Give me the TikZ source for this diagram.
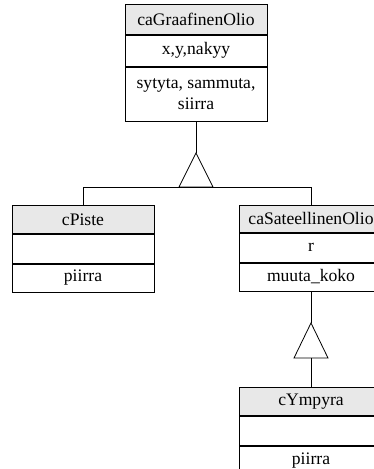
\documentclass[tikz,border=0pt]{standalone}
\usepackage{fontspec}
\setmainfont{Liberation Serif}
\begin{document}
\begin{tikzpicture}[x=1pt,y=-1pt,
  font=\fontsize{17.6}{20.5}\selectfont,
  line width=0.8pt,
  cell/.style={draw, rectangle, inner sep=0pt, anchor=north, align=center},
  head/.style={cell, fill=gray!18},
  tri/.style={draw, line join=miter}]
\useasboundingbox (0,0) rectangle (374,469);
% caGraafinenOlio
\node[head, minimum width=142pt, minimum height=30pt] (g1) at (196,4) {caGraafinenOlio};
\node[cell, minimum width=142pt, minimum height=31pt] (g2) at (g1.south) {x,y,nakyy};
\node[cell, minimum width=142pt, minimum height=54pt] (g3) at (g2.south) {sytyta, sammuta,\\siirra};
% cPiste
\node[head, minimum width=142pt, minimum height=28pt] (p1) at (83,205) {cPiste};
\node[cell, minimum width=142pt, minimum height=29pt] (p2) at (p1.south) {};
\node[cell, minimum width=142pt, minimum height=28pt] (p3) at (p2.south) {piirra};
% caSateellinenOlio
\node[head, minimum width=144pt, minimum height=27pt] (s1) at (311,205) {caSateellinenOlio};
\node[cell, minimum width=144pt, minimum height=29pt] (s2) at (s1.south) {r};
\node[cell, minimum width=144pt, minimum height=28pt] (s3) at (s2.south) {muuta\_koko};
% cYmpyra
\node[head, minimum width=144pt, minimum height=28pt] (y1) at (311,387) {cYmpyra};
\node[cell, minimum width=144pt, minimum height=29pt] (y2) at (y1.south) {};
\node[cell, minimum width=144pt, minimum height=29pt] (y3) at (y2.south) {piirra};
% triangle 1
\coordinate (t1a) at (196,153);
\coordinate (t1b) at (196,187);
\draw (g3.south) -- (t1a);
\draw[tri] (t1a) -- ([xshift=17pt]t1b) -- ([xshift=-17pt]t1b) -- cycle;
\draw (p1.north) -- (p1.north |- t1b) -- (s1.north |- t1b) -- (s1.north);
% triangle 2
\coordinate (t2a) at (311,323);
\coordinate (t2b) at (311,358);
\draw (s3.south) -- (t2a);
\draw[tri] (t2a) -- ([xshift=17pt]t2b) -- ([xshift=-17pt]t2b) -- cycle;
\draw (t2b) -- (y1.north);
\end{tikzpicture}
\end{document}
